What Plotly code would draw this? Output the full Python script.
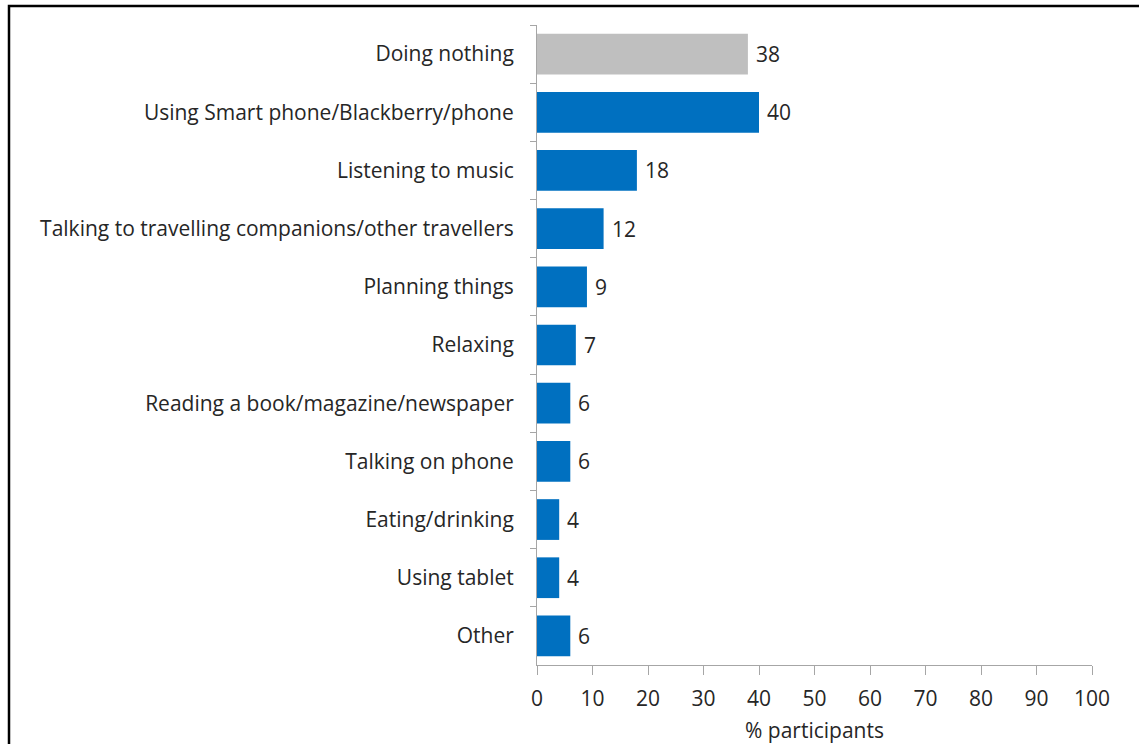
import plotly.graph_objects as go

categories = [
    "Doing nothing",
    "Using Smart phone/Blackberry/phone",
    "Listening to music",
    "Talking to travelling companions/other travellers",
    "Planning things",
    "Relaxing",
    "Reading a book/magazine/newspaper",
    "Talking on phone",
    "Eating/drinking",
    "Using tablet",
    "Other",
]
values = [38, 40, 18, 12, 9, 7, 6, 6, 4, 4, 6]
bar_colors = ["#BFBFBF"] + ["#0070C0"] * 10
x_ticks = [0, 10, 20, 30, 40, 50, 60, 70, 80, 90, 100]
x_title = "% participants"

FONT = "Open Sans"
FS = 21
TXT = "#262626"

fig = go.Figure(
    go.Bar(
        y=categories,
        x=values,
        orientation="h",
        marker=dict(color=bar_colors, line=dict(width=0)),
        width=0.7,
        hoverinfo="x+y",
    )
)

annotations = [
    dict(
        x=v, y=c, xref="x", yref="y", text=str(v), showarrow=False,
        xanchor="left", yanchor="middle", xshift=6,
        font=dict(family=FONT, size=FS, color=TXT),
    )
    for c, v in zip(categories, values)
]

fig.update_layout(
    width=1139,
    height=744,
    margin=dict(l=537, r=47, t=25, b=79),
    paper_bgcolor="white",
    plot_bgcolor="white",
    showlegend=False,
    font=dict(family=FONT, size=FS, color=TXT),
    annotations=annotations,
    xaxis=dict(
        range=[0, 100],
        tickvals=x_ticks,
        automargin=False,
        showgrid=False,
        zeroline=False,
        showline=True,
        linecolor="#A6A6A6",
        linewidth=1,
        ticks="outside",
        ticklen=9,
        tickcolor="#A6A6A6",
        ticklabelstandoff=6,
        tickfont=dict(family=FONT, size=FS, color=TXT),
        title=dict(text=x_title, font=dict(family=FONT, size=FS, color=TXT), standoff=12),
    ),
    yaxis=dict(
        autorange="reversed",
        automargin=False,
        showgrid=False,
        zeroline=False,
        showline=True,
        linecolor="#A6A6A6",
        linewidth=1,
        ticks="outside",
        ticklen=6,
        tickcolor="#A6A6A6",
        tickson="boundaries",
        ticklabelstandoff=18,
        tickfont=dict(family=FONT, size=FS, color=TXT),
    ),
    shapes=[
        dict(
            type="rect",
            xref="paper",
            yref="paper",
            x0=(9 - 537) / 555,
            x1=1.2,
            y0=-0.3,
            y1=(665 - 6) / 640,
            line=dict(color="black", width=2.5),
            fillcolor="rgba(0,0,0,0)",
            layer="below",
        )
    ],
)

fig.write_html(
    "out.html",
    config={"displayModeBar": False},
    post_script="document.body.style.margin='0';document.body.style.overflow='hidden';",
)
